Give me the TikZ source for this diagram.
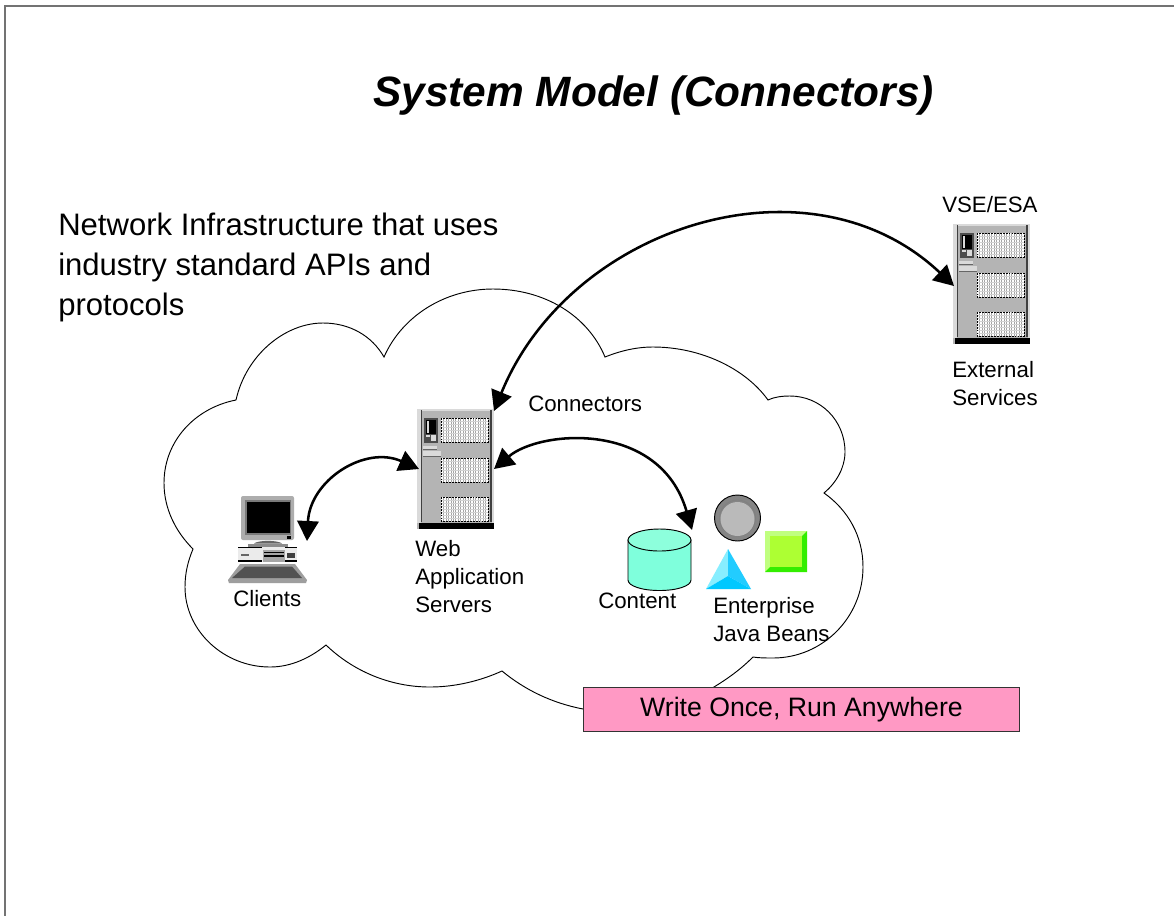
\documentclass[tikz,border=0pt]{standalone}
\usepackage{fontspec}
\setmainfont{Liberation Sans}
\usetikzlibrary{arrows.meta}
\definecolor{srvgray}{HTML}{B4B4B4}
\definecolor{srvlight}{HTML}{DADADA}
\definecolor{pinkbox}{HTML}{FF99C4}
\definecolor{aqua}{HTML}{7FFFDC}
\definecolor{aqualt}{HTML}{8DFFDC}
\definecolor{triL}{HTML}{88EEFF}
\definecolor{triR}{HTML}{22CCFF}
\definecolor{triB}{HTML}{00C8FF}
\definecolor{sqL}{HTML}{C0FF80}
\definecolor{sqC}{HTML}{ADFF33}
\definecolor{sqD}{HTML}{33EE00}
\tikzset{
  x=0.75pt,y=-0.75pt,
  lbl/.style={inner sep=0pt,align=left,font=\fontsize{16.7}{21}\selectfont},
  body/.style={inner sep=0pt,align=left,font=\fontsize{23.3}{30}\selectfont},
  conn/.style={line width=1.9pt,{Triangle[length=15pt,width=16pt]}-{Triangle[length=15pt,width=16pt]}},
  cloudline/.style={draw=black,line width=0.7pt,fill=white},
}
\newcommand{\vent}[4]{%
  \fill[white] (#1,#2) rectangle (#3,#4);
  \foreach \i in {1,...,18}{\draw[gray!70,line width=0.55pt] ({#1+\i*(#3-#1)/19},#2) -- ({#1+\i*(#3-#1)/19},#4);}
  \foreach \i in {1,...,7}{\draw[gray!35,line width=0.4pt] (#1,{#2+\i*(#4-#2)/8}) -- (#3,{#2+\i*(#4-#2)/8});}
  \draw[black,line width=0.6pt,dash pattern=on 1.4pt off 0.8pt] (#1,#2) rectangle (#3,#4);
}
\newcommand{\server}[3]{% name, x, y
  \node[minimum width=57.75pt,minimum height=90pt,inner sep=0pt,outer sep=0pt,anchor=north west,fill=srvgray] (#1) at (#2,#3) {};
  \begin{scope}[shift={(#2,#3)}]
    \fill[srvlight] (0,0) rectangle (77,2);
    \fill[srvlight] (0,0) rectangle (4,114);
    \fill[srvlight] (74.5,0) rectangle (77,114);
    \draw[black!75,line width=0.8pt] (4.5,1) -- (4.5,113);
    \draw[black!75,line width=0.8pt] (74,1) -- (74,113);
    \fill[black] (2,114) rectangle (77,120);
    \fill[black!70] (7,9) rectangle (21,34);
    \fill[black] (9,11) rectangle (19,25);
    \fill[srvlight] (10,12) rectangle (12,24);
    \fill[srvlight] (14,26) rectangle (19,32);
    \fill[srvlight] (9,26) rectangle (13,28);
    \fill[srvlight] (6,37) rectangle (20,40);
    \draw[black!60,line width=0.3pt] (6,40) -- (20,40);
    \fill[srvlight] (6,42) rectangle (24,47);
    \draw[black!60,line width=0.3pt] (6,47) -- (24,47);
    \vent{24}{9}{71}{33}
    \vent{24}{49}{71}{73}
    \vent{24}{88}{71}{112}
  \end{scope}
}
\begin{document}
\begin{tikzpicture}
\useasboundingbox (0,0) rectangle (1174,915);
\fill[white] (0,0) rectangle (1174,915);
\draw[black!55,line width=1.5pt] (5,920) -- (5,6) -- (1180,6);

% cloud
\draw[cloudline] (236,400)
  .. controls (246,355) and (285,323) .. (323,323)
  .. controls (350,323) and (372,336) .. (384,357)
  .. controls (402,316) and (445,289) .. (493,289)
  .. controls (545,289) and (588,316) .. (605,357)
  .. controls (620,351) and (636,347) .. (653,347)
  .. controls (700,347) and (745,368) .. (768,400)
  .. controls (774,397) and (782,396) .. (790,396)
  .. controls (820,396) and (845,420) .. (845,452)
  .. controls (845,468) and (836,483) .. (824,493)
  .. controls (848,510) and (863,536) .. (863,567)
  .. controls (863,618) and (822,658) .. (773,658)
  .. controls (766,658) and (759,658) .. (753,657)
  .. controls (740,670) and (727,679) .. (714,687)
  .. controls (700,696) and (680,708) .. (660,718)
  .. controls (630,719) and (600,713) .. (583,709)
  .. controls (552,703) and (525,690) .. (502,671)
  .. controls (480,681) and (455,687) .. (430,687)
  .. controls (390,687) and (353,671) .. (326,645)
  .. controls (310,658) and (291,667) .. (270,667)
  .. controls (224,667) and (185,631) .. (185,587)
  .. controls (185,573) and (188,561) .. (193,549)
  .. controls (175,531) and (164,508) .. (164,483)
  .. controls (164,441) and (195,408) .. (236,400)
  -- cycle;

% servers
\server{web}{417}{409}
\server{ext}{953}{224}

% client computer
\node[minimum width=39.75pt,minimum height=33pt,inner sep=0pt,outer sep=0pt,anchor=north west,fill=black!32,rounded corners=1.5pt] (client) at (241,496) {};
\fill[black!52] (245,500) rectangle (291,535);
\fill[black] (247,501.5) rectangle (290,533);
\fill[black] (287,536) rectangle (291,539);
\fill[black!60] (254,543.5) .. controls (258,540) and (278,540) .. (282,543.5) -- cycle;
\fill[black!45] (248,543.5) rectangle (288,547);
\fill[black!8] (238,547) rectangle (297,562);
\fill[black] (238,546.5) rectangle (262,548);
\fill[black] (285,546.5) rectangle (297,548);
\fill[black] (238,560) rectangle (262,562);
\fill[black] (285,560) rectangle (297,562);
\fill[black!60] (241,554) rectangle (249,556);
\fill[black!35] (263,550) rectangle (285,562);
\fill[black] (264,551.5) rectangle (284,552.5);
\fill[black] (264,555) rectangle (284,556.5);
\fill[black!75] (287,553) rectangle (295,558);
\fill[black!38] (240,564) -- (295,564) -- (307,580) -- (306,583) -- (229,583) -- (228,580) -- cycle;
\fill[black!68] (245,566.5) -- (292,566.5) -- (302,578) -- (232,578) -- cycle;

% content cylinder
\node[minimum width=47.25pt,minimum height=37.5pt,inner sep=0pt,outer sep=0pt,anchor=north west] (content) at (628,529) {};
\draw[black,line width=0.7pt,fill=aqua] (628,540) -- (628,580) .. controls (628,586) and (642,590.5) .. (659.5,590.5)
  .. controls (677,590.5) and (691,586) .. (691,580) -- (691,540) -- cycle;
\draw[black,line width=0.7pt,fill=aqualt] (659.5,540) ellipse [x radius=31.5,y radius=11];

% enterprise beans
\node[circle,minimum size=34.5pt,inner sep=0pt,outer sep=0pt,draw=black,line width=0.7pt,fill=black!48] (bean) at (737.5,518) {};
\draw[black!50,line width=0.6pt] (737.5,518) circle [radius=18];
\fill[black!27] (737.5,519) circle [radius=17];
% triangle
\fill[triL] (728,549) -- (706,589) -- (728,576) -- cycle;
\fill[triR] (728,549) -- (751,589) -- (728,576) -- cycle;
\fill[triB] (706,589) -- (751,589) -- (728,576) -- cycle;
% square
\fill[sqL] (765,531) rectangle (807,572);
\fill[sqD] (807,531) -- (807,572) -- (765,572) -- (770,567) -- (802,567) -- (802,536) -- cycle;
\fill[sqC] (770,536) rectangle (802,567);

% connectors
\coordinate (webNE) at (494,411);
\coordinate (extW) at (954,286);
\coordinate (webW) at (419,469);
\coordinate (clientE) at (307,541);
\coordinate (webE) at (494,469);
\coordinate (contentN) at (692,530);
\draw[conn] (webNE) .. controls (570,225) and (810,150) .. (extW);
\draw[conn] (clientE) .. controls (310,480) and (365,445) .. (webW);
\draw[conn] (webE) .. controls (540,430) and (660,420) .. (contentN);

% texts
\node[inner sep=0pt,anchor=base west,font=\bfseries\itshape\fontsize{31.8}{38}\selectfont] (title) at (373,106) {System Model (Connectors)};
\node[body,anchor=north west] (intro) at (58,212.5) {Network Infrastructure that uses\\industry standard APIs and\\protocols};
\node[lbl,anchor=base west] (lvse) at (942,212) {VSE/ESA};
\node[lbl,anchor=north west] (lext) at (952,361) {External\\Services};
\node[lbl,anchor=base west] (lconn) at (528,411) {Connectors};
\node[lbl,anchor=north west] (lweb) at (415,540) {Web\\Application\\Servers};
\node[lbl,anchor=base west] (lcli) at (233,606) {Clients};
\node[lbl,anchor=base west] (lcon) at (598,608) {Content};
\node[lbl,anchor=north west] (lejb) at (713,597) {Enterprise\\Java Beans};

\node[draw=black!80,line width=0.8pt,fill=pinkbox,minimum width=327pt,minimum height=33pt,inner sep=0pt,outer sep=0pt,anchor=north west,font=\fontsize{20}{24}\selectfont] (wora) at (583.5,687.5) {\raisebox{-2pt}{Write Once, Run Anywhere}};
\end{tikzpicture}
\end{document}
